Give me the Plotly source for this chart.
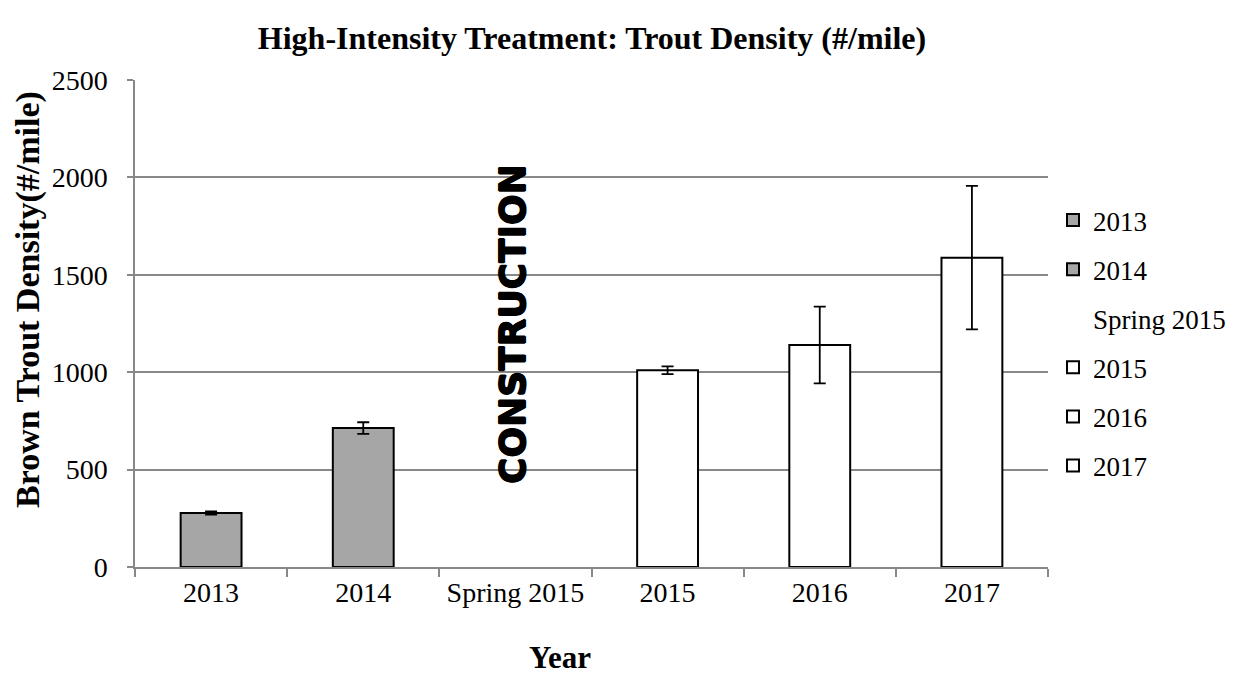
import plotly.graph_objects as go

categories = ["2013", "2014", "Spring 2015", "2015", "2016", "2017"]
density = [277, 713, None, 1010, 1140, 1588]
errors = [8, 30, None, 20, 197, 368]
fills = ["#A6A6A6", "#A6A6A6", "rgba(0,0,0,0)", "#FFFFFF", "#FFFFFF", "#FFFFFF"]

# page body adds an 8px offset; lay out in target pixels minus that offset
OFF = 8
W, H = 1241, 675
L, T = 135 - OFF, 80 - OFF
PW, PH = 913, 487
R, B = W - L - PW, H - T - PH

def px_x(x):
    return (x - OFF - L) / PW

def px_y(y):
    return (T + PH - (y - OFF)) / PH

fig = go.Figure()
for cat, val, err, col in zip(categories, density, errors, fills):
    empty = val is None
    fig.add_trace(go.Bar(
        x=[cat], y=[val], name=cat, legendgroup=cat,
        marker=dict(color=col, line=dict(color="rgba(0,0,0,0)" if empty else "black", width=0 if empty else 2)),
        width=0.4,
        error_y=dict(type="data", array=[err], visible=not empty, color="black", thickness=1.8, width=6),
    ))

fig.add_annotation(x="Spring 2015", y=1250, xref="x", yref="y", text="<b>CONSTRUCTION</b>",
                   textangle=-90, showarrow=False, xshift=-3,
                   font=dict(family="DejaVu Sans", size=36, color="black",
                             shadow="0.7px 0 0 #000, -0.7px 0 0 #000, 0 0.7px 0 #000, 0 -0.7px 0 #000"))

fig.add_annotation(x=px_x(560), y=px_y(657), xref="paper", yref="paper", text="<b>Year</b>",
                   showarrow=False, xanchor="center", yanchor="middle",
                   font=dict(family="Liberation Serif", size=31, color="black"))
fig.add_annotation(x=px_x(28), y=px_y(300), xref="paper", yref="paper",
                   text="<b>Brown Trout Density(#/mile)</b>", textangle=-90,
                   showarrow=False, xanchor="center", yanchor="middle",
                   font=dict(family="Liberation Serif", size=34, color="black"))

fig.update_layout(
    width=W, height=H,
    paper_bgcolor="white", plot_bgcolor="white",
    barmode="overlay",
    margin=dict(l=L, r=R, t=T, b=B, autoexpand=False),
    title=dict(text="<b>High-Intensity Treatment: Trout Density (#/mile)</b>",
               x=(592 - OFF) / W, xanchor="center", y=1 - (38 - OFF) / H, yanchor="middle",
               font=dict(family="Liberation Serif", size=32, color="black")),
    font=dict(family="Liberation Serif", size=28, color="black"),
    legend=dict(x=px_x(1053), xanchor="left", y=px_y(196), yanchor="top",
                font=dict(family="Liberation Serif", size=27, color="black"),
                traceorder="grouped", tracegroupgap=11, itemwidth=30),
    showlegend=True,
)
fig.update_xaxes(categoryorder="array", categoryarray=categories, automargin=False,
                 showline=True, linecolor="#888888", linewidth=1.5,
                 ticks="outside", tickson="boundaries", ticklen=8, tickcolor="#888888", tickwidth=1.5,
                 tickfont=dict(family="Liberation Serif", size=28, color="black"),
                 showgrid=False)
fig.update_yaxes(range=[0, 2500], dtick=500, automargin=False,
                 showline=True, linecolor="#888888", linewidth=1.5,
                 ticks="outside", ticklen=6, tickcolor="#888888", tickwidth=1.5,
                 ticklabelstandoff=14,
                 showgrid=True, gridcolor="#888888", gridwidth=1.5,
                 zeroline=False,
                 tickfont=dict(family="Liberation Serif", size=28, color="black"))

fig.write_html("out.html")
